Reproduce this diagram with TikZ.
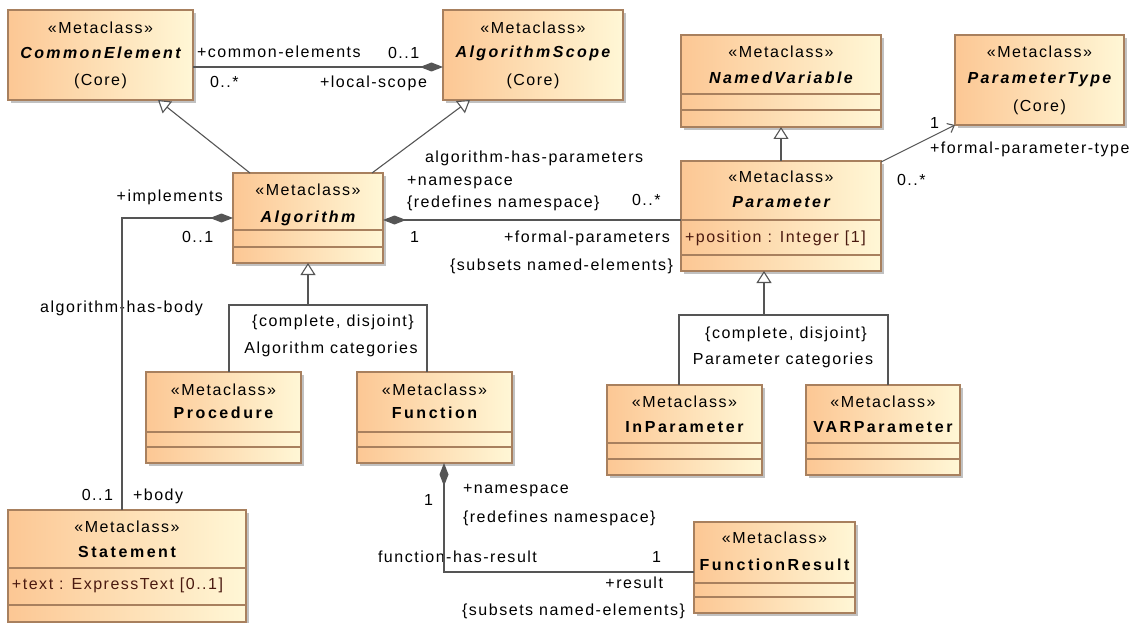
\documentclass[tikz,border=0pt]{standalone}
\usepackage{fontspec}
\setmainfont{Liberation Sans}[LetterSpace=9.5,BoldFeatures={LetterSpace=16},BoldItalicFeatures={LetterSpace=15}]
\usetikzlibrary{arrows.meta,shadows,calc}
\definecolor{boxL}{HTML}{FCC794}
\definecolor{boxR}{HTML}{FFF7D6}
\definecolor{boxB}{HTML}{A8805E}
\definecolor{lineC}{HTML}{555555}
\definecolor{attrC}{HTML}{4A1A10}
\tikzset{dia/.tip={Diamond[length=23pt, width=9pt, fill=lineC]}}
\newcommand\umlclass[5]{\node[classbox, minimum width={(#4)-(#2)}, minimum height={(#5)-(#3)}] (#1) at ({((#2)+(#4))/2},{((#3)+(#5))/2}) {};}
\newcommand\compline[2]{\draw[boxline] (#1.west |- 0,#2) -- (#1.east |- 0,#2);}
\begin{document}
\begin{tikzpicture}[x=1pt,y=-1pt,
  every node/.style={font=\fontsize{16pt}{19pt}\selectfont, inner sep=0pt, outer sep=0pt, text height=11.4pt, text depth=0pt},
  classbox/.style={draw=boxB, line width=1.1pt, left color=boxL, right color=boxR,
    drop shadow={shadow xshift=3pt,shadow yshift=-3pt,fill=black!30,opacity=0.8}},
  boxline/.style={draw=boxB, line width=1.1pt},
  stereo/.style={anchor=center},
  absname/.style={anchor=center, font=\fontsize{16pt}{19pt}\selectfont\bfseries\itshape},
  cname/.style={anchor=center, font=\fontsize{16pt}{19pt}\selectfont\bfseries},
  attr/.style={anchor=west, text=attrC},
  lw/.style={anchor=west},
  le/.style={anchor=east},
  lc/.style={anchor=center},
  assoc/.style={draw=lineC, line width=1.1pt},
  gen/.style={draw=lineC, line width=1.1pt, -{Triangle[open, fill=white, length=12pt, width=15pt]}},
]
\useasboundingbox (0,0) rectangle (1133,623);

% ---------- classes ----------
\umlclass{ce}{8}{10}{193}{100}
\node[stereo] (ce-s) at (100.5,28) {«Metaclass»};
\node[absname] (ce-n) at (100.5,53) {CommonElement};
\node[stereo] (ce-c) at (100.5,80) {(Core)};

\umlclass{as}{443}{10}{623}{100}
\node[stereo] (as-s) at (533,28) {«Metaclass»};
\node[absname] (as-n) at (533,52) {AlgorithmScope};
\node[stereo] (as-c) at (533,80) {(Core)};

\umlclass{nv}{681}{35}{881}{127}
\compline{nv}{94}\compline{nv}{110}
\node[stereo] (nv-s) at (781,52) {«Metaclass»};
\node[absname] (nv-n) at (781,78) {NamedVariable};

\umlclass{pt}{955}{35}{1124}{125}
\node[stereo] (pt-s) at (1039.5,52) {«Metaclass»};
\node[absname] (pt-n) at (1039.5,78) {ParameterType};
\node[stereo] (pt-c) at (1039.5,106) {(Core)};

\umlclass{alg}{233}{173}{383}{263}
\compline{alg}{230}\compline{alg}{247}
\node[stereo] (alg-s) at (308,190) {«Metaclass»};
\node[absname] (alg-n) at (308,217) {Algorithm};

\umlclass{par}{681}{161}{881}{271}
\compline{par}{220}\compline{par}{255}
\node[stereo] (par-s) at (781,177) {«Metaclass»};
\node[absname] (par-n) at (781,202) {Parameter};
\node[attr] (par-a) at (685,237) {+position : Integer [1]};

\umlclass{proc}{146}{372}{301}{463}
\compline{proc}{432}\compline{proc}{447}
\node[stereo] (proc-s) at (223.5,390) {«Metaclass»};
\node[cname] (proc-n) at (223.5,413) {Procedure};

\umlclass{func}{357}{372}{512}{463}
\compline{func}{432}\compline{func}{447}
\node[stereo] (func-s) at (434.5,390) {«Metaclass»};
\node[cname] (func-n) at (434.5,413) {Function};

\umlclass{inp}{607}{385}{762}{475}
\compline{inp}{443}\compline{inp}{459}
\node[stereo] (inp-s) at (684.5,402) {«Metaclass»};
\node[cname] (inp-n) at (684.5,427) {InParameter};

\umlclass{var}{806}{385}{960}{475}
\compline{var}{443}\compline{var}{459}
\node[stereo] (var-s) at (883,402) {«Metaclass»};
\node[cname] (var-n) at (883,427) {VARParameter};

\umlclass{stm}{8}{510}{246}{622}
\compline{stm}{568}\compline{stm}{605}
\node[stereo] (stm-s) at (127,527) {«Metaclass»};
\node[cname] (stm-n) at (127,552) {Statement};
\node[attr] (stm-a) at (12,584) {+text : ExpressText [0..1]};

\umlclass{fr}{694}{522}{855}{613}
\compline{fr}{583}\compline{fr}{597}
\node[stereo] (fr-s) at (774.5,538) {«Metaclass»};
\node[cname] (fr-n) at (774.5,565) {FunctionResult};

% ---------- labels drawn under lines ----------
\node[le] (l-ahb) at (203,307) {algorithm-has-body};
\node[lw] (l-fhr) at (378,557) {function-has-result};

% ---------- connectors ----------
\draw[assoc, -dia] ($(ce.east)+(0,12)$) -- ($(as.west)+(0,12)$);
\draw[gen] ($(alg.north west)+(17,0)$) -- ($(ce.south west)+(150,0)$);
\draw[gen] ($(alg.north east)+(-11,0)$) -- ($(as.south west)+(27,0)$);
\draw[gen] (par.north) -- (nv.south);
\draw[assoc, -{Straight Barb[length=6pt,width=10pt]}] ($(par.north east)+(0,1)$) -- (pt.south west);
\draw[assoc, dia-] ($(alg.east)+(0,2)$) -- ($(par.west)+(0,4)$);
\draw[assoc, dia-] (alg.west) -| ($(stm.north west)+(114,0)$);

\coordinate (gA) at (308,305);
\draw[assoc] ($(proc.north west)+(83,0)$) |- (gA) -| ($(func.north west)+(70,0)$);
\draw[gen] (gA) -- (alg.south);

\coordinate (gP) at (764,315);
\draw[assoc] ($(inp.north west)+(72,0)$) |- (gP) -| ($(var.north west)+(82,0)$);
\draw[gen] (gP) -- ($(par.south west)+(83,0)$);

\draw[assoc, dia-] ($(func.south west)+(87,0)$) |- ($(fr.west)+(0,4.5)$);

% ---------- connector labels ----------
\node[lw] (l1) at (197,52) {+common-elements};
\node[lw] (l2) at (388,53) {0..1};
\node[lw] (l3) at (210,82) {0..*};
\node[le] (l4) at (427,82) {+local-scope};

\node[lw] (l5) at (425,157) {algorithm-has-parameters};
\node[lw] (l6) at (407,180) {+namespace};
\node[lw] (l7) at (407,202) {\{redefines namespace\}};
\node[lw] (l8) at (632,200) {0..*};
\node[lw] (l9) at (410,237) {1};
\node[le] (l10) at (670,237) {+formal-parameters};
\node[le] (l11) at (673,265) {\{subsets named-elements\}};

\node[le] (l12) at (223,196) {+implements};
\node[lw] (l13) at (182,237) {0..1};
\node[le] (l14) at (113,495) {0..1};
\node[lw] (l15) at (133,495) {+body};

\node[lc] (l16) at (333,321) {\{complete, disjoint\}};
\node[lc] (l17) at (331,348) {Algorithm categories};
\node[lc] (l18) at (786,333) {\{complete, disjoint\}};
\node[lc] (l19) at (783,359) {Parameter categories};

\node[lw] (l20) at (930,123) {1};
\node[lw] (l21) at (930,148) {+formal-parameter-type};
\node[lw] (l22) at (897,180) {0..*};

\node[lw] (l23) at (424,500) {1};
\node[lw] (l24) at (463,488) {+namespace};
\node[lw] (l25) at (463,517) {\{redefines namespace\}};
\node[lw] (l26) at (652,557) {1};
\node[le] (l27) at (663,583) {+result};
\node[le] (l28) at (685,610) {\{subsets named-elements\}};
\end{tikzpicture}
\end{document}
